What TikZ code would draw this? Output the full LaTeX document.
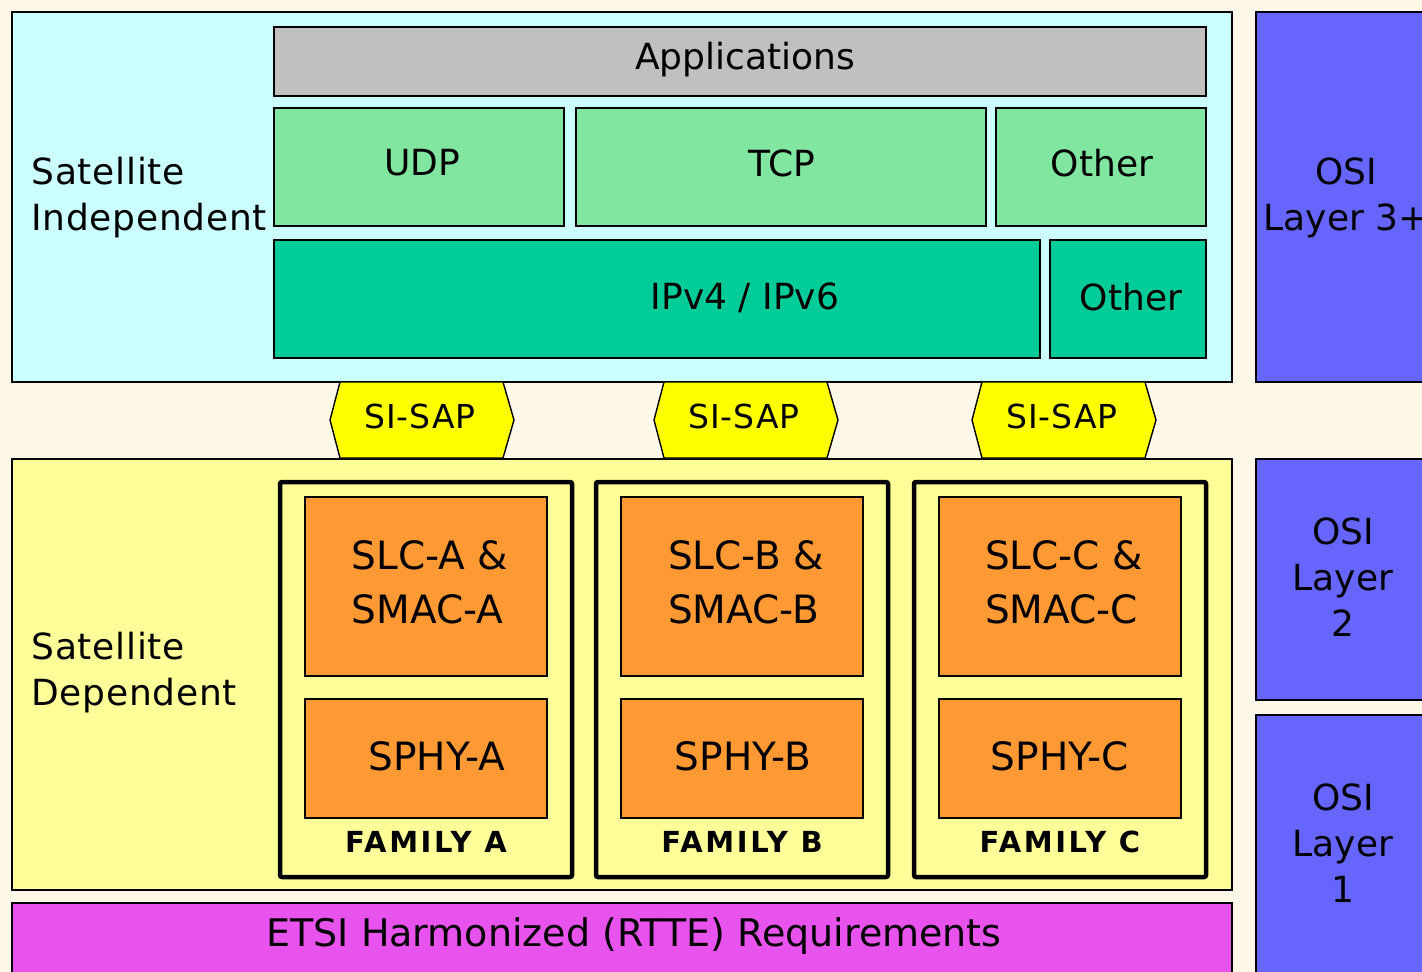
\documentclass[tikz,border=0pt]{standalone}
\usepackage{fontspec}
\setmainfont{DejaVu Sans}
\definecolor{paper}{HTML}{FFF8E8}
\definecolor{sicyan}{HTML}{CCFFFF}
\definecolor{appgray}{HTML}{C0C0C0}
\definecolor{tpgreen}{HTML}{80E6A0}
\definecolor{ipteal}{HTML}{00CC99}
\definecolor{osiblue}{HTML}{6666FF}
\definecolor{sdyellow}{HTML}{FFFF99}
\definecolor{sapyellow}{HTML}{FFFF00}
\definecolor{famorange}{HTML}{FF9933}
\definecolor{etsimagenta}{HTML}{E853EE}
\begin{document}
\begin{tikzpicture}[x=1pt,y=-1pt,
  layerbox/.style={draw=black, line width=1.4pt, inner sep=0pt, outer sep=0pt},
  bigtext/.style={font=\fontsize{36}{46}\selectfont},
  sidetext/.style={font=\fontsize{36}{46}\selectfont\addfontfeatures{LetterSpace=2}, align=left, anchor=west},
  stacktext/.style={font=\fontsize{39}{54}\selectfont, align=left},
  sphytext/.style={font=\fontsize{39}{46}\selectfont},
  saptext/.style={font=\fontsize{33}{38}\selectfont\addfontfeatures{LetterSpace=3}},
  famtext/.style={font=\bfseries\fontsize{29}{34}\selectfont\addfontfeatures{LetterSpace=9}},
  famframe/.style={draw=black, line width=4.5pt, rounded corners=2pt, inner sep=0pt},
  sapshape/.style={draw=black, line width=1.4pt, fill=sapyellow, line join=miter}
]
\useasboundingbox (0,0) rectangle (1422,972);
\clip (0,0) rectangle (1422,972);
\fill[paper] (0,0) rectangle (1422,972);

% ---- satellite independent part ----
\node[layerbox, fill=sicyan, minimum width=1220pt, minimum height=370pt] (si) at (622,197) {};
\node[sidetext] (silabel) at (28,198) {Satellite\\Independent};
\node[layerbox, fill=appgray, minimum width=932pt, minimum height=69pt] (apps) at (740,61.5) {};
\node[bigtext] (appstxt) at (745,60) {Applications};
\node[layerbox, fill=tpgreen, minimum width=290pt, minimum height=118pt] (udp) at (419,167) {};
\node[bigtext] (udptxt) at (422,163) {UDP};
\node[layerbox, fill=tpgreen, minimum width=410pt, minimum height=118pt] (tcp) at (781,167) {};
\node[bigtext] (tcptxt) at (782,163) {TCP};
\node[layerbox, fill=tpgreen, minimum width=210pt, minimum height=118pt] (othtp) at (1101,167) {};
\node[bigtext] (othtptxt) at (1102,163) {Other};
\node[layerbox, fill=ipteal, minimum width=766pt, minimum height=118pt] (ip) at (657,299) {};
\node[bigtext] (iptxt) at (745,298) {IPv4 / IPv6};
\node[layerbox, fill=ipteal, minimum width=156pt, minimum height=118pt] (othip) at (1128,299) {};
\node[bigtext] (othiptxt) at (1131,297) {Other};

% ---- satellite dependent part ----
\node[layerbox, fill=sdyellow, minimum width=1220pt, minimum height=431pt] (sd) at (622,674.5) {};
\node[sidetext] (sdlabel) at (28,673) {Satellite\\Dependent};

\foreach \c/\f/\d in {426/A/11, 742/B/1, 1060/C/0} {
  \node[famframe, minimum width=292pt, minimum height=395pt] (fam\f) at (\c,679.5) {};
  \node[layerbox, fill=famorange, minimum width=242pt, minimum height=179pt] (slc\f) at (\c,586.5) {};
  \node[stacktext] (slctxt\f) at (\c+4,582) {SLC-\f\ \&\\SMAC-\f};
  \node[layerbox, fill=famorange, minimum width=242pt, minimum height=119pt] (sphy\f) at (\c,758.5) {};
  \node[sphytext] (sphytxt\f) at (\c+\d,756) {SPHY-\f};
  \node[famtext] (famtxt\f) at (\c,842) {FAMILY \f};
}

% ---- service access points between the two parts ----
\foreach \c/\n in {422/1, 746/2, 1064/3} {
  \draw[sapshape] (\c-92,420) -- (\c-82,382) -- (\c+81,382) -- (\c+92,420)
    -- (\c+81,458) -- (\c-82,458) -- cycle;
  \node[saptext] (sap\n) at (\c-2,416) {SI-SAP};
}

% ---- regulatory layer ----
\node[layerbox, fill=etsimagenta, minimum width=1220pt, minimum height=90pt] (etsi) at (622,948) {};
\node[font=\fontsize{38}{46}\selectfont] (etsitxt) at (634,936) {ETSI Harmonized (RTTE) Requirements};

% ---- OSI reference column ----
\node[layerbox, fill=osiblue, minimum width=190pt, minimum height=370pt] (osi3) at (1351,197) {};
\node[bigtext, align=center] (osi3txt) at (1346,198) {OSI\\Layer 3+};
\node[layerbox, fill=osiblue, minimum width=190pt, minimum height=241pt] (osi2) at (1351,579.5) {};
\node[bigtext, align=center] (osi2txt) at (1343,577) {OSI\\Layer\\2};
\node[layerbox, fill=osiblue, minimum width=190pt, minimum height=280pt] (osi1) at (1351,855) {};
\node[bigtext, align=center] (osi1txt) at (1343,843) {OSI\\Layer\\1};
\end{tikzpicture}
\end{document}
